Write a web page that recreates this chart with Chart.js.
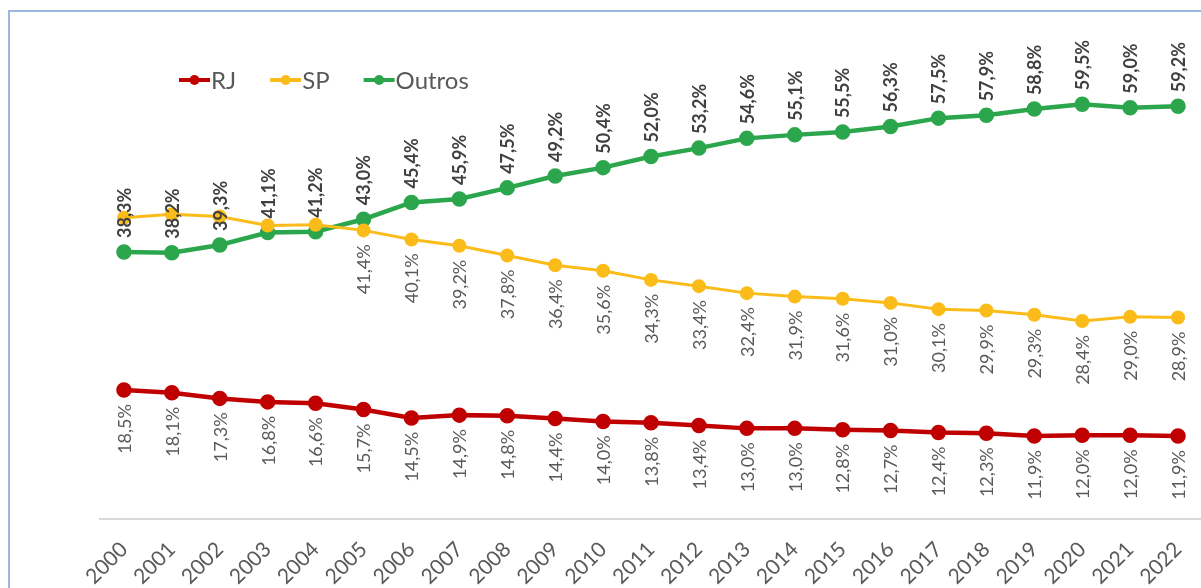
<!DOCTYPE html>
<html>
<head>
<meta charset="utf-8">
<script src="https://cdn.jsdelivr.net/npm/chart.js@4.4.1/dist/chart.umd.min.js"></script>
<style>
    html, body { margin: 0; padding: 0; background: #fff; overflow: hidden; }
    #frame {
        position: absolute; left: 8px; top: 10px; width: 1400px; height: 800px;
        border-left: 2px solid #9bb7e0; border-top: 2px solid #9bb7e0;
    }
    #wrap { position: absolute; left: 0; top: 0; width: 1240px; height: 588px; }
</style>
</head>
<body>
<div id="frame"></div>
<div id="wrap"><canvas id="shareChart" width="1240" height="588"></canvas></div>
<script>
// --- Data ---
const years = ['2000', '2001', '2002', '2003', '2004', '2005', '2006', '2007', '2008', '2009', '2010', '2011',
    '2012', '2013', '2014', '2015', '2016', '2017', '2018', '2019', '2020', '2021', '2022'];
const rj = [18.5, 18.1, 17.3, 16.8, 16.6, 15.7, 14.5, 14.9, 14.8, 14.4, 14.0, 13.8,
    13.4, 13.0, 13.0, 12.8, 12.7, 12.4, 12.3, 11.9, 12.0, 12.0, 11.9];
const sp = [43.2, 43.7, 43.4, 42.1, 42.2, 41.4, 40.1, 39.2, 37.8, 36.4, 35.6, 34.3,
    33.4, 32.4, 31.9, 31.6, 31.0, 30.1, 29.9, 29.3, 28.4, 29.0, 28.9];
const outros = [38.3, 38.2, 39.3, 41.1, 41.2, 43.0, 45.4, 45.9, 47.5, 49.2, 50.4, 52.0,
    53.2, 54.6, 55.1, 55.5, 56.3, 57.5, 57.9, 58.8, 59.5, 59.0, 59.2];

const FONT = 'Lato, "Open Sans", sans-serif';

function fmt(v) {
    return v.toFixed(1).replace('.', ',') + '%';
}

// --- Rotated value labels + legend (no datalabels plugin available) ---
const labelPlugin = {
    id: 'valueLabels',
    afterDatasetsDraw(chart) {
        const ctx = chart.ctx;
        chart.data.datasets.forEach(function (ds, di) {
            const meta = chart.getDatasetMeta(di);
            const above = ds.label === 'Outros';
            meta.data.forEach(function (pt, i) {
                // SP labels for the first years are hidden in the original (they overlap)
                if (ds.label === 'SP' && i < 5) return;
                ctx.save();
                ctx.font = (above ? 'bold ' : '') + '18px ' + FONT;
                ctx.fillStyle = above ? '#404040' : '#595959';
                ctx.textBaseline = 'middle';
                ctx.translate(pt.x, above ? pt.y - 14 : pt.y + 14);
                ctx.rotate(-Math.PI / 2);
                ctx.textAlign = above ? 'left' : 'right';
                ctx.fillText(fmt(ds.data[i]), 0, 1);
                ctx.restore();
            });
        });

        // legend
        let x = 179;
        const y = 80;
        ctx.save();
        ctx.font = '24px ' + FONT;
        ctx.textBaseline = 'middle';
        chart.data.datasets.forEach(function (ds) {
            ctx.strokeStyle = ds.borderColor;
            ctx.lineWidth = 4;
            ctx.beginPath();
            ctx.moveTo(x, y);
            ctx.lineTo(x + 31, y);
            ctx.stroke();
            ctx.fillStyle = ds.borderColor;
            ctx.beginPath();
            ctx.arc(x + 15.5, y, 5, 0, Math.PI * 2);
            ctx.fill();
            ctx.fillStyle = '#595959';
            ctx.textAlign = 'left';
            ctx.fillText(ds.label, x + 32, y + 1);
            x += 32 + ctx.measureText(ds.label).width + 34;
        });
        ctx.restore();
    }
};

const ctx = document.getElementById('shareChart').getContext('2d');
new Chart(ctx, {
    type: 'line',
    data: {
        labels: years,
        datasets: [{
            label: 'RJ',
            data: rj,
            borderColor: '#c00000',
            backgroundColor: '#c00000',
            borderWidth: 4.5,
            pointRadius: 5.5,
            pointHoverRadius: 5.5
        }, {
            label: 'SP',
            data: sp,
            borderColor: '#fbbc1a',
            backgroundColor: '#fbbc1a',
            borderWidth: 3,
            pointRadius: 5.5,
            pointHoverRadius: 5.5
        }, {
            label: 'Outros',
            data: outros,
            borderColor: '#2ca64c',
            backgroundColor: '#2ca64c',
            borderWidth: 4.5,
            pointRadius: 5.5,
            pointHoverRadius: 5.5
        }]
    },
    options: {
        responsive: false,
        animation: false,
        layout: { padding: { left: 100, right: 38, top: 31, bottom: 0 } },
        plugins: {
            legend: { display: false },
            tooltip: { enabled: false }
        },
        scales: {
            x: {
                offset: true,
                grid: { display: false },
                border: { display: true, color: '#d9d9d9', width: 2 },
                ticks: {
                    color: '#595959',
                    font: { family: FONT, size: 21 },
                    minRotation: 45,
                    maxRotation: 45,
                    padding: 10,
                    autoSkip: false
                },
                afterFit: function (scale) { scale.height = 69; }
            },
            y: {
                display: false,
                min: 0,
                max: 70
            }
        }
    },
    plugins: [labelPlugin]
});
</script>
</body>
</html>
